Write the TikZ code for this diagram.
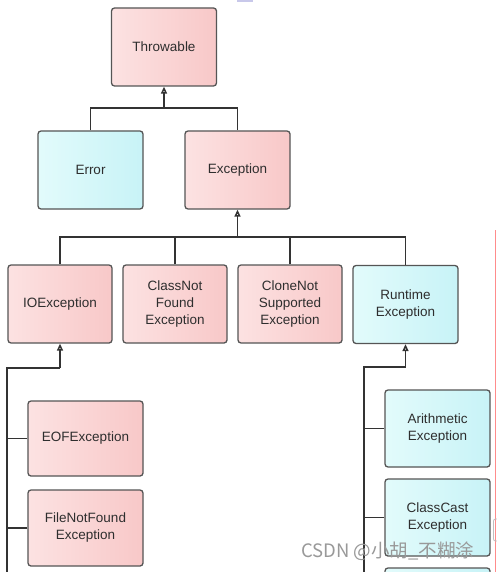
\documentclass[tikz,border=0pt]{standalone}
\usepackage{fontspec}
\setmainfont{Liberation Sans}
\newfontfamily\cjk{Noto Sans CJK SC}
\usetikzlibrary{arrows.meta}
\definecolor{pinkL}{HTML}{FCE2E2}
\definecolor{pinkR}{HTML}{F8C8C8}
\definecolor{cyanL}{HTML}{E2FBFB}
\definecolor{cyanR}{HTML}{C8F3F7}
\definecolor{edge}{HTML}{555555}
\definecolor{wire}{HTML}{333333}
\definecolor{txt}{HTML}{2E2E2E}
\tikzset{
  box/.style={rectangle, rounded corners=3pt, draw=edge, line width=1.3pt,
    minimum width=105pt, minimum height=78pt, align=center, text=txt,
    font=\fontsize{13.5}{17}\selectfont, inner sep=0pt},
  pinkbox/.style={box, left color=pinkL, right color=pinkR},
  cyanbox/.style={box, left color=cyanL, right color=cyanR},
  wireline/.style={draw=wire, line width=1.5pt},
  inherit/.style={wireline, -{Triangle[open, width=6pt, length=7pt]}},
}
\begin{document}
\begin{tikzpicture}[x=1pt, y=-1pt]
\useasboundingbox (0,0) rectangle (497,572);
\clip (0,0) rectangle (497,572);
\fill[white] (0,0) rectangle (497,572);
% nodes
\node[pinkbox] (thr) at (164,47) {Throwable};
\node[cyanbox] (err) at (90.5,170) {Error};
\node[pinkbox] (exc) at (237.5,170) {Exception};
\node[pinkbox, minimum width=104pt] (ioe) at (60,304) {IOException};
\node[pinkbox, minimum width=104pt] (cnf) at (175,304) {ClassNot\\Found\\Exception};
\node[pinkbox, minimum width=104pt] (cns) at (290,304) {CloneNot\\Supported\\Exception};
\node[cyanbox] (rte) at (405.5,304.5) {Runtime\\Exception};
\node[pinkbox, minimum width=115pt, minimum height=75pt] (eof) at (85.5,438.5) {EOFException};
\node[pinkbox, minimum width=115pt, minimum height=76pt] (fnf) at (85.5,528) {FileNotFound\\Exception};
\node[cyanbox, minimum height=77pt] (ari) at (437.5,428.5) {Arithmetic\\Exception};
\node[cyanbox, minimum height=77pt] (ccx) at (437.5,517.5) {ClassCast\\Exception};
\node[cyanbox, minimum height=77pt] (more) at (437.5,606.5) {};
% level 1
\coordinate (bus1) at (164,108);
\draw[wireline] (err.north) |- (bus1) -| (exc.north);
\draw[inherit] (bus1) -- (thr.south);
% level 2
\coordinate (bus2) at (237.5,237);
\draw[wireline] (ioe.north) |- (bus2) -| (rte.north);
\draw[wireline] (cnf.north) -- (cnf.north |- bus2);
\draw[wireline] (cns.north) -- (cns.north |- bus2);
\draw[inherit] (bus2) -- (exc.south);
% IOException subtree
\coordinate (io1) at (60,368);
\coordinate (io2) at (7,368);
\coordinate (io3) at (7,580);
\draw[wireline] (io3) -- (io2) -- (io1);
\draw[inherit] (io1) -- (ioe.south);
\draw[wireline] (eof.west) -- (eof.west -| io2);
\draw[wireline] (fnf.west) -- (fnf.west -| io2);
% RuntimeException subtree
\coordinate (rt1) at (405.5,367);
\coordinate (rt2) at (364,367);
\coordinate (rt3) at (364,580);
\draw[wireline] (rt3) -- (rt2) -- (rt1);
\draw[inherit] (rt1) -- (rte.south);
\draw[wireline] (ari.west) -- (ari.west -| rt2);
\draw[wireline] (ccx.west) -- (ccx.west -| rt2);
% screenshot artefacts
\draw[draw=red!45, line width=1pt] (495.5,230) -- (495.5,572);
\draw[draw=gray!50, line width=0.8pt, rounded corners=2pt] (500,519) -- (493.5,519) -- (493.5,541) -- (500,541);
\fill[fill=gray!55!blue!30] (237,0) rectangle (253,2);
% watermark
\node[text=gray!80, font=\cjk\fontsize{18.5}{20}\selectfont, anchor=west, inner sep=0pt] (wm) at (301,551) {CSDN @小胡\_不糊涂};
\end{tikzpicture}
\end{document}
